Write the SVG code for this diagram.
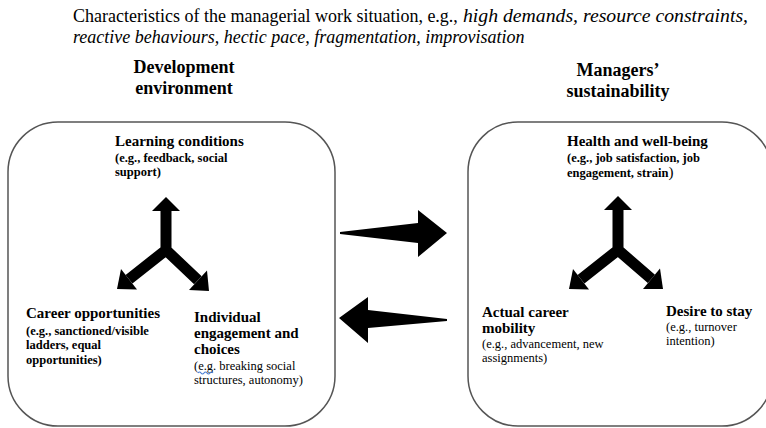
<svg xmlns="http://www.w3.org/2000/svg" width="766" height="428" viewBox="0 0 766 428">
<style>
text{font-family:"Liberation Serif","Times New Roman",serif;fill:#000}
.t{font-size:18px}
.i{font-style:italic}
.h{font-size:18px;font-weight:bold}
.n{font-size:15px;font-weight:bold}
.eb{font-size:12.5px;font-weight:bold}
.er{font-size:12.5px}
.box{fill:#fff;stroke:#555;stroke-width:1.5}
.y{fill:none;stroke:#000;stroke-width:11;stroke-linejoin:miter}
.ah{fill:#000}
</style>
<rect width="766" height="428" fill="#fff"/>
<g id="title">
<text class="t" x="73" y="22">Characteristics of the managerial work situation, e.g.,</text>
<text class="t i" x="463" y="22" textLength="285" lengthAdjust="spacingAndGlyphs">high demands, resource constraints,</text>
<text class="t i" x="73" y="43">reactive behaviours, hectic pace, fragmentation, improvisation</text>
</g>
<g id="dev-heading">
<text class="h" x="184" y="73" text-anchor="middle">Development</text>
<text class="h" x="184" y="94" text-anchor="middle">environment</text>
</g>
<g id="sus-heading">
<text class="h" x="618" y="76" text-anchor="middle">Managers’</text>
<text class="h" x="618" y="97" text-anchor="middle">sustainability</text>
</g>
<g id="development-environment">
<rect class="box" x="8" y="122" width="327" height="304" rx="50"/>
</g>
<g id="managers-sustainability">
<rect class="box" x="468" y="122" width="304" height="304" rx="50"/>
</g>
<g id="learning-conditions">
<text class="n" x="115" y="146">Learning conditions</text>
<text class="eb" x="115" y="162">(e.g., feedback, social</text>
<text class="eb" x="115" y="176">support)</text>
</g>
<g id="career-opportunities">
<text class="n" x="26" y="318">Career opportunities</text>
<text class="eb" x="26" y="335">(e.g., sanctioned/visible</text>
<text class="eb" x="26" y="349">ladders, equal</text>
<text class="eb" x="26" y="364">opportunities)</text>
</g>
<g id="individual-engagement">
<text class="n" x="194" y="322">Individual</text>
<text class="n" x="194" y="338">engagement and</text>
<text class="n" x="194" y="354">choices</text>
<text class="er" x="194" y="370">(e.g. breaking social</text>
<path d="M198,373 q1.5,-2 3,0 t3,0 t3,0 t3,0 t3,0" fill="none" stroke="#4a7fd6" stroke-width="1.2"/>
<text class="er" x="194" y="384">structures, autonomy)</text>
</g>
<g id="health">
<text class="n" x="567" y="146">Health and well-being</text>
<text class="eb" x="567" y="162">(e.g., job satisfaction, job</text>
<text class="eb" x="567" y="177">engagement, strain<tspan font-weight="normal" font-size="15">)</tspan></text>
</g>
<g id="career-mobility">
<text class="n" x="482" y="317">Actual career</text>
<text class="n" x="482" y="333">mobility</text>
<text class="er" x="482" y="348">(e.g., advancement,  new</text>
<text class="er" x="482" y="362">assignments)</text>
</g>
<g id="desire-to-stay">
<text class="n" x="666" y="316">Desire to stay</text>
<text class="er" x="666" y="331">(e.g., turnover</text>
<text class="er" x="666" y="345">intention)</text>
</g>
<g id="connectors">
<path class="y" d="M166,211 L166,250 L129,279.3 M166,211 L166,250 L197.9,280.3"/>
<polygon class="ah" points="152,211 166,197 180,211"/>
<polygon class="ah" points="137,289.5 117,289 121,269"/>
<polygon class="ah" points="207,270.5 209,291 189,290"/>
<path class="y" d="M618,210 L618,250 L581,279.3 M618,210 L618,250 L651.4,278.8"/>
<polygon class="ah" points="604,210 618,196 632,210"/>
<polygon class="ah" points="589,289.5 569,289 573,269"/>
<polygon class="ah" points="660,268.5 663,289 643,289"/>
<polygon class="ah" points="340,232 418,223 418,210 447,233 418,257 418,243 340,234"/>
<polygon class="ah" points="339,318 368,297 368,310 447,319 447,321 368,328 368,343"/>
</g>
</svg>
